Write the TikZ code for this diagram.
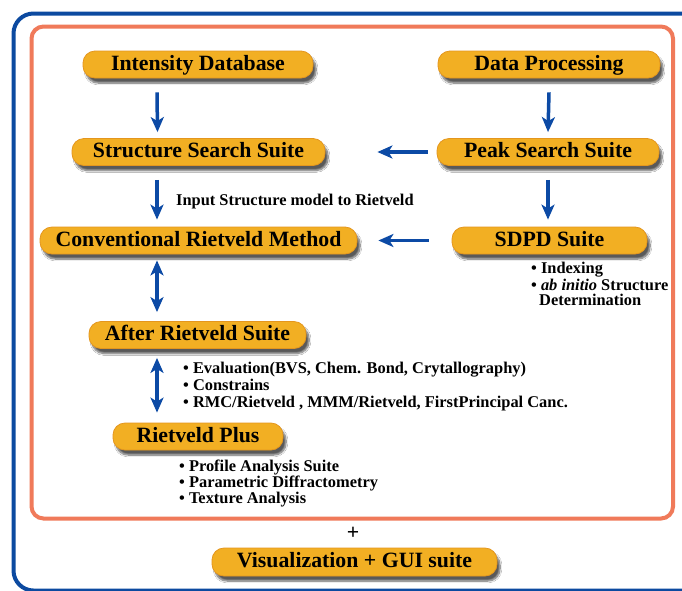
\documentclass[tikz,border=0pt]{standalone}
\usepackage{fontspec}
\setmainfont{Liberation Serif}[BoldFont={Liberation Serif Bold},ItalicFont={Liberation Serif Italic},BoldItalicFont={Liberation Serif Bold Italic}]
\usetikzlibrary{arrows.meta,shadows.blur}
\definecolor{boxfill}{RGB}{242,175,35}
\definecolor{boxborder}{RGB}{228,150,30}
\definecolor{frameblue}{RGB}{12,74,160}
\definecolor{frameorange}{RGB}{240,122,90}
\definecolor{arrowblue}{RGB}{12,74,165}
\tikzset{
  box/.style={draw=boxborder, line width=0.8pt, fill=boxfill, rounded corners=12pt,
    minimum height=27pt, inner sep=0pt,
    font=\bfseries\fontsize{21.8}{24}\selectfont, text height=15.5pt, text depth=4.5pt,
    blur shadow={shadow xshift=3pt, shadow yshift=-5pt, shadow opacity=65, shadow blur steps=8}},
  note/.style={anchor=base west, inner sep=0pt, font=\bfseries\fontsize{16.4}{18}\selectfont},
  arr/.style={draw=arrowblue, line width=3.5pt, -{Stealth[length=15pt,width=13pt,inset=4pt]}},
  darr/.style={draw=arrowblue, line width=3.5pt, {Stealth[length=15pt,width=13pt,inset=4pt]}-{Stealth[length=15pt,width=13pt,inset=4pt]}}
}
\begin{document}
\begin{tikzpicture}[x=1pt,y=-1pt]
\useasboundingbox (0,0) rectangle (682,590);
\clip (0,0) rectangle (682,590);
\fill[white] (0,0) rectangle (682,590);
% frames
\draw[frameblue, line width=4pt, rounded corners=20pt] (13.5,13.5) rectangle (730,590.5);
\draw[frameorange, line width=4pt, rounded corners=12pt] (31.5,26.5) rectangle (673,518.5);
% boxes
\node[box, minimum width=230pt] (int) at (198,64.5) {Intensity Database};
\node[box, minimum width=222pt] (dp) at (549,64.5) {Data Processing};
\node[box, minimum width=253pt] (ss) at (198.5,152) {Structure Search Suite};
\node[box, minimum width=222pt] (ps) at (548,152) {Peak Search Suite};
\node[box, minimum width=317pt] (crm) at (198.5,240.5) {Conventional Rietveld Method};
\node[box, minimum width=195pt] (sdpd) at (549.5,240.5) {SDPD Suite};
\node[box, minimum width=217pt] (ars) at (197.5,335) {After Rietveld Suite};
\node[box, minimum width=170pt] (rp) at (198,436.5) {Rietveld Plus};
\node[box, minimum width=285pt, minimum height=28pt] (vis) at (354.5,562) {Visualization + GUI suite};
\node[inner sep=0pt, font=\bfseries\fontsize{21.8}{24}\selectfont] (plus) at (353,533) {+};
% arrows
\draw[arr] ([xshift=-41pt,yshift=-14pt]int.south) -- ([xshift=-41pt,yshift=6pt]ss.north);
\draw[arr] ([yshift=-14pt]dp.south) -- ([yshift=6pt]ps.north);
\draw[arr] ([xshift=-9pt]ps.west) -- ([xshift=52pt]ss.east);
\draw[arr] ([xshift=-41.5pt,yshift=-14pt]ss.south) -- ([xshift=-41.5pt,yshift=7pt]crm.north);
\draw[arr] ([yshift=-14pt]ps.south) -- ([yshift=7pt]ps.south |- sdpd.north);
\draw[arr] ([xshift=-23pt]sdpd.west) -- ([xshift=21pt]crm.east);
\draw[darr] ([xshift=-41.5pt,yshift=-6pt]crm.south) -- ([xshift=-40.5pt,yshift=9pt]ars.north);
\draw[darr] ([xshift=-40.5pt,yshift=-9pt]ars.south) -- ([xshift=-41pt,yshift=10pt]rp.north);
% notes
\node[note] (inp) at (176,205) {Input Structure model to Rietveld};
\node[note] (sd1) at (531,273) {\textbullet\ Indexing};
\node[note] (sd2) at (531,290) {\textbullet\ \textit{ab initio} Structure};
\node[note] (sd3) at (539,305) {Determination};
\node[note] (ar1) at (183,373) {\textbullet\ Evaluation(BVS, Chem. Bond, Crytallography)};
\node[note] (ar2) at (183,390) {\textbullet\ Constrains};
\node[note] (ar3) at (183,407) {\textbullet\ RMC/Rietveld , MMM/Rietveld, FirstPrincipal Canc.};
\node[note] (rp1) at (179,471) {\textbullet\ Profile Analysis Suite};
\node[note] (rp2) at (179,487) {\textbullet\ Parametric Diffractometry};
\node[note] (rp3) at (179,503) {\textbullet\ Texture Analysis};
\end{tikzpicture}
\end{document}
